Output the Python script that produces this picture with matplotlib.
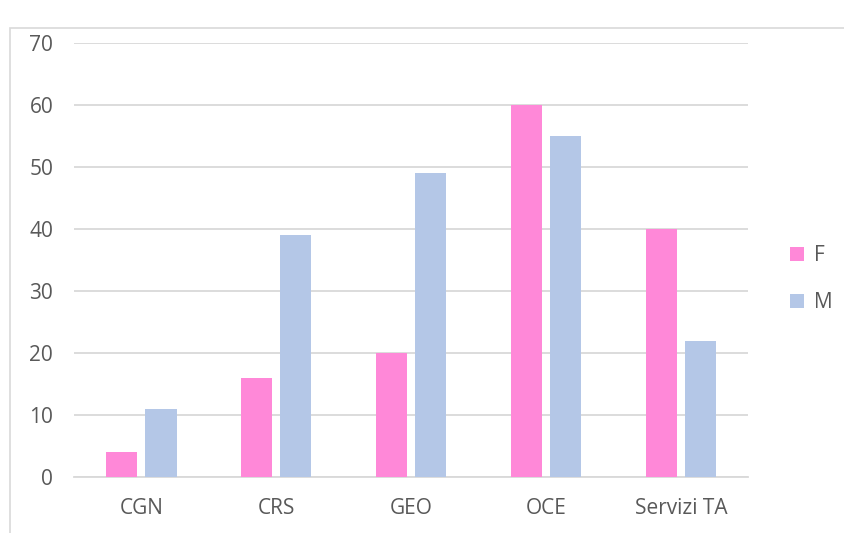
import matplotlib.pyplot as plt
import matplotlib.patches as mpatches
import numpy as np

categories = ['CGN', 'CRS', 'GEO', 'OCE', 'Servizi TA']
f_vals = [4, 16, 20, 60, 40]
m_vals = [11, 39, 49, 55, 22]
yticks = [0, 10, 20, 30, 40, 50, 60, 70]

pink = '#FF88D8'
blue = '#B4C7E7'
grid = '#D9D9D9'
txt = '#595959'

plt.rcParams['font.family'] = ['Open Sans', 'DejaVu Sans']

fig = plt.figure(figsize=(8.45, 5.33), dpi=100)
ax = fig.add_axes([0.0876, 0.105, 0.798, 0.814])

x = np.arange(len(categories))
w = 0.23
ax.bar(x - 0.145, f_vals, w, color=pink, label='F', zorder=3)
ax.bar(x + 0.145, m_vals, w, color=blue, label='M', zorder=3)

ax.set_xlim(-0.5, len(categories) - 0.5)
ax.set_ylim(0, 70)
ax.set_yticks(yticks)
ax.set_xticks(x)
ax.set_xticklabels(categories)
ax.yaxis.grid(True, color=grid, linewidth=1.3, zorder=0)
ax.tick_params(axis='both', length=0, labelsize=15, labelcolor=txt)
ax.tick_params(axis='y', pad=15)
ax.tick_params(axis='x', pad=15)
for s in ['top', 'right', 'left']:
    ax.spines[s].set_visible(False)
ax.spines['bottom'].set_color(grid)
ax.spines['bottom'].set_linewidth(1.3)

fig.legend(loc='center left', bbox_to_anchor=(0.913, 0.476), frameon=False,
           fontsize=15, labelcolor=txt, handlelength=0.67, handleheight=0.67,
           handletextpad=0.45, labelspacing=1.25, borderpad=0.4)

fig.patches.append(mpatches.Rectangle((10 / 845, -0.1), 1.0, 1.0737 - 14 / 533,
                                      transform=fig.transFigure, fill=False,
                                      edgecolor=grid, linewidth=1.2))

fig.savefig('out.png', dpi=100)
